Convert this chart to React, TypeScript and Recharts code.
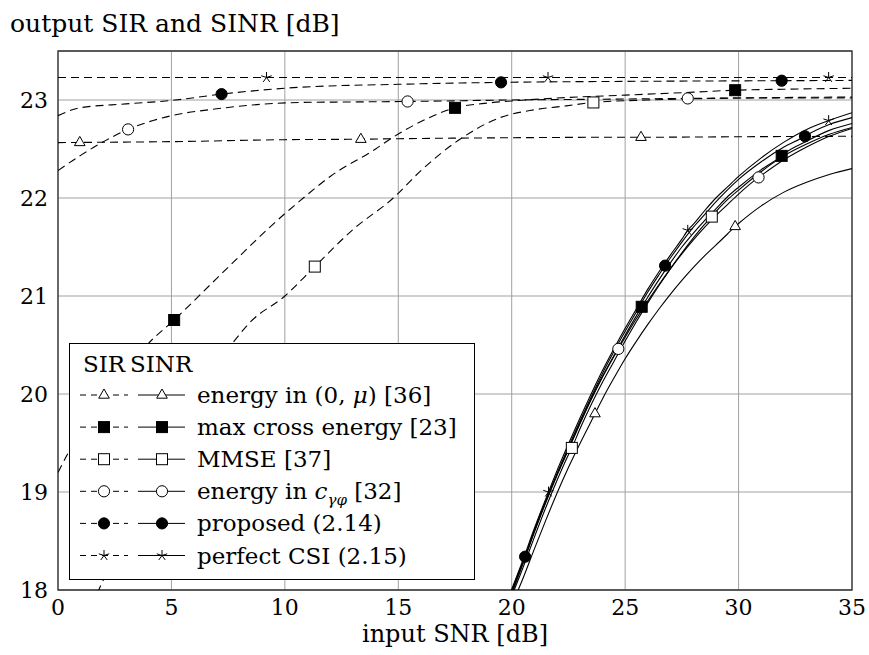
import React from "react";
import { ComposedChart, Line, XAxis, YAxis, CartesianGrid, ReferenceArea } from "recharts";

const FONT = "DejaVu Serif";

const xTicks = [0, 5, 10, 15, 20, 25, 30, 35];
const yTicks = [18, 19, 20, 21, 22, 23];

// SIR curves (dashed)
const sirTriX = [0, 0.96, 5, 10, 13.35, 15, 20, 25, 25.7, 30, 35];
const sirTriY = [22.565, 22.567, 22.575, 22.595, 22.6, 22.605, 22.615, 22.62, 22.62, 22.625, 22.63];
const sirTriMarks = [0.96, 13.35, 25.7];

const sirSqfX = [0, 0.43, 2, 3.96, 5.12, 7, 10, 10.66, 12, 14, 14.77, 16, 17.5, 19, 20, 22, 25, 28, 29.85, 32, 35];
const sirSqfY = [19.2, 19.39, 19.9, 20.51, 20.755, 21.18, 21.84, 21.97, 22.22, 22.5, 22.62, 22.78, 22.92, 22.97, 22.99, 23.02, 23.05, 23.08, 23.1, 23.11, 23.12];
const sirSqfMarks = [5.12, 17.5, 29.85];

const sirSqoX = [1.5, 3, 5, 7.8, 8.46, 10, 11.32, 13.01, 14.78, 16, 17.72, 19.48, 21, 22.4, 23.6, 26, 30, 35];
const sirSqoY = [17.85, 18.6, 19.5, 20.55, 20.73, 21.0, 21.3, 21.68, 22.0, 22.28, 22.6, 22.82, 22.9, 22.94, 22.975, 23.0, 23.02, 23.03];
const sirSqoMarks = [11.32, 23.6];

const sirCioX = [0, 1.03, 3.09, 5, 7, 10.66, 13, 15.41, 20, 25, 27.76, 30, 35];
const sirCioY = [22.28, 22.44, 22.7, 22.84, 22.91, 22.975, 22.98, 22.985, 23.0, 23.01, 23.016, 23.02, 23.02];
const sirCioMarks = [3.09, 15.41, 27.76];

const sirCifX = [0, 0.96, 3, 5, 7.21, 10, 10.66, 15, 19.53, 25, 31.9, 35];
const sirCifY = [22.84, 22.92, 22.96, 22.995, 23.06, 23.12, 23.13, 23.16, 23.18, 23.19, 23.197, 23.2];
const sirCifMarks = [7.21, 19.53, 31.9];

const sirStarX = [0, 9.19, 21.6, 33.97, 35];
const sirStarY = [23.23, 23.23, 23.23, 23.23, 23.23];
const sirStarMarks = [9.19, 21.6, 33.97];

// SINR curves (solid)
const sinrTriX = [20.1, 20.5, 21, 21.5, 22, 22.5, 23, 23.5, 23.67, 24, 24.5, 25, 25.5, 26, 26.5, 27, 27.5, 28, 28.5, 29, 29.5, 29.85, 30, 31, 32, 33, 34, 35];
const sinrTriY = [17.9, 18.12, 18.42, 18.71, 18.99, 19.25, 19.49, 19.72, 19.8, 19.95, 20.16, 20.36, 20.54, 20.71, 20.87, 21.02, 21.16, 21.29, 21.41, 21.52, 21.63, 21.71, 21.74, 21.92, 22.06, 22.16, 22.24, 22.3];
const sinrTriMarks = [23.67, 29.85];

const sinrSqfX = [19.9, 20.5, 21, 21.5, 22, 22.5, 23, 23.5, 24, 24.5, 25, 25.5, 25.73, 26, 26.5, 27, 27.5, 28, 28.5, 29, 29.5, 30, 31, 31.9, 32, 33, 34, 35];
const sinrSqfY = [17.91, 18.28, 18.6, 18.9, 19.18, 19.44, 19.7, 19.95, 20.18, 20.39, 20.6, 20.8, 20.89, 20.99, 21.17, 21.34, 21.5, 21.64, 21.77, 21.89, 22.01, 22.11, 22.29, 22.43, 22.45, 22.58, 22.69, 22.76];
const sinrSqfMarks = [25.73, 31.9];

const sinrSqoX = [19.9, 20.5, 21, 21.5, 22, 22.5, 22.65, 23, 23.5, 24, 24.5, 25, 25.5, 26, 26.5, 27, 27.5, 28, 28.5, 28.82, 29, 29.5, 30, 31, 32, 33, 34, 35];
const sinrSqoY = [17.88, 18.23, 18.54, 18.84, 19.12, 19.38, 19.45, 19.64, 19.89, 20.12, 20.33, 20.54, 20.74, 20.93, 21.11, 21.28, 21.44, 21.59, 21.73, 21.81, 21.86, 21.98, 22.08, 22.27, 22.43, 22.55, 22.65, 22.72];
const sinrSqoMarks = [22.65, 28.82];

const sinrCioX = [19.9, 20.5, 21, 21.5, 22, 22.5, 23, 23.5, 24, 24.5, 24.7, 25, 25.5, 26, 26.5, 27, 27.5, 28, 28.5, 29, 29.5, 30, 30.88, 31, 32, 33, 34, 35];
const sinrCioY = [17.9, 18.27, 18.59, 18.89, 19.17, 19.43, 19.69, 19.94, 20.17, 20.38, 20.46, 20.58, 20.77, 20.95, 21.12, 21.28, 21.43, 21.57, 21.7, 21.82, 21.93, 22.04, 22.21, 22.23, 22.39, 22.52, 22.63, 22.71];
const sinrCioMarks = [24.7, 30.88];

const sinrCifX = [19.9, 20.5, 20.59, 21, 21.5, 22, 22.5, 23, 23.5, 24, 24.5, 25, 25.5, 26, 26.5, 26.76, 27, 27.5, 28, 28.5, 29, 29.5, 30, 31, 32, 32.93, 33, 34, 35];
const sinrCifY = [17.92, 18.29, 18.34, 18.61, 18.91, 19.19, 19.46, 19.72, 19.97, 20.21, 20.43, 20.64, 20.84, 21.04, 21.22, 21.31, 21.39, 21.55, 21.7, 21.83, 21.96, 22.08, 22.19, 22.37, 22.52, 22.63, 22.64, 22.75, 22.82];
const sinrCifMarks = [20.59, 26.76, 32.93];

const sinrStarX = [19.9, 20.5, 21, 21.5, 21.62, 22, 22.5, 23, 23.5, 24, 24.5, 25, 25.5, 26, 26.5, 27, 27.5, 27.76, 28, 28.5, 29, 29.5, 30, 31, 32, 33, 33.97, 35];
const sinrStarY = [17.95, 18.31, 18.63, 18.93, 19.0, 19.22, 19.49, 19.75, 20.0, 20.24, 20.46, 20.67, 20.87, 21.07, 21.25, 21.42, 21.58, 21.67, 21.73, 21.87, 22.0, 22.11, 22.22, 22.41, 22.57, 22.7, 22.79, 22.87];
const sinrStarMarks = [21.62, 27.76, 33.97];

type Kind = "tri" | "sqf" | "sqo" | "cio" | "cif" | "star";

const legendKinds: Kind[] = ["tri", "sqf", "sqo", "cio", "cif", "star"];

const toPts = (xs: number[], ys: number[]) => xs.map((x, i) => ({ x, y: ys[i] }));

const series = [
  { id: "sirTri", kind: "tri" as Kind, dashed: true, data: toPts(sirTriX, sirTriY), marks: sirTriMarks },
  { id: "sirSqf", kind: "sqf" as Kind, dashed: true, data: toPts(sirSqfX, sirSqfY), marks: sirSqfMarks },
  { id: "sirSqo", kind: "sqo" as Kind, dashed: true, data: toPts(sirSqoX, sirSqoY), marks: sirSqoMarks },
  { id: "sirCio", kind: "cio" as Kind, dashed: true, data: toPts(sirCioX, sirCioY), marks: sirCioMarks },
  { id: "sirCif", kind: "cif" as Kind, dashed: true, data: toPts(sirCifX, sirCifY), marks: sirCifMarks },
  { id: "sirStar", kind: "star" as Kind, dashed: true, data: toPts(sirStarX, sirStarY), marks: sirStarMarks },
  { id: "sinrTri", kind: "tri" as Kind, dashed: false, data: toPts(sinrTriX, sinrTriY), marks: sinrTriMarks },
  { id: "sinrSqf", kind: "sqf" as Kind, dashed: false, data: toPts(sinrSqfX, sinrSqfY), marks: sinrSqfMarks },
  { id: "sinrSqo", kind: "sqo" as Kind, dashed: false, data: toPts(sinrSqoX, sinrSqoY), marks: sinrSqoMarks },
  { id: "sinrCio", kind: "cio" as Kind, dashed: false, data: toPts(sinrCioX, sinrCioY), marks: sinrCioMarks },
  { id: "sinrCif", kind: "cif" as Kind, dashed: false, data: toPts(sinrCifX, sinrCifY), marks: sinrCifMarks },
  { id: "sinrStar", kind: "star" as Kind, dashed: false, data: toPts(sinrStarX, sinrStarY), marks: sinrStarMarks },
];

function Marker({ kind, x, y }: { kind: Kind; x: number; y: number }) {
  if (kind === "tri") {
    return <polygon points={`${x},${y - 6} ${x - 5.3},${y + 3.2} ${x + 5.3},${y + 3.2}`} fill="#fff" stroke="#000" strokeWidth={1} />;
  }
  if (kind === "sqf" || kind === "sqo") {
    return <rect x={x - 5.5} y={y - 5.5} width={11} height={11} fill={kind === "sqf" ? "#000" : "#fff"} stroke="#000" strokeWidth={1} />;
  }
  if (kind === "cio" || kind === "cif") {
    return <circle cx={x} cy={y} r={5.6} fill={kind === "cif" ? "#000" : "#fff"} stroke="#000" strokeWidth={1} />;
  }
  const r = 5.5;
  let d = "";
  for (let k = 0; k < 5; k++) {
    const a = (-90 + k * 72) * (Math.PI / 180);
    d += `M${x},${y}L${x + r * Math.cos(a)},${y + r * Math.sin(a)}`;
  }
  return <path d={d} stroke="#000" strokeWidth={1} fill="none" />;
}

const makeDot = (kind: Kind, marks: number[]) => (p: any) => {
  if (p.payload && marks.includes(p.payload.x)) {
    return <Marker key={p.index} kind={kind} x={p.cx} y={p.cy} />;
  }
  return <g key={p.index} />;
};

const legendLabels: React.ReactNode[] = [
  <>energy in (0, <tspan fontStyle="italic">μ</tspan>) [36]</>,
  <>max cross energy [23]</>,
  <>MMSE [37]</>,
  <>energy in <tspan fontStyle="italic">c</tspan><tspan fontStyle="italic" fontSize={15} dy={6}>γφ</tspan><tspan dy={-6}> [32]</tspan></>,
  <>proposed (2.14)</>,
  <>perfect CSI (2.15)</>,
];

function LegendBox() {
  return (
    <div style={{ position: "absolute", left: 69, top: 343, width: 406, height: 237, boxSizing: "border-box", border: "1px solid #000", background: "#fff" }}>
      <svg width={404} height={235} style={{ position: "absolute", left: 0, top: 0 }} fontFamily={FONT}>
        <text x={13} y={28} fontSize={23}>SIR</text>
        <text x={60} y={28} fontSize={23}>SINR</text>
        {legendKinds.map((k, i) => {
          const cy = 51 + i * 32.1;
          return (
            <g key={k}>
              <line x1={10} x2={58} y1={cy} y2={cy} stroke="#000" strokeWidth={1} strokeDasharray="6 5" />
              <Marker kind={k} x={34} y={cy} />
              <line x1={68} x2={115} y1={cy} y2={cy} stroke="#000" strokeWidth={1} />
              <Marker kind={k} x={92} y={cy} />
              <text x={127} y={cy + 8} fontSize={23}>{legendLabels[i]}</text>
            </g>
          );
        })}
      </svg>
    </div>
  );
}

export default function App() {
  return (
    <div style={{ position: "absolute", left: 0, top: 0, width: 869, height: 655, background: "#fff", fontFamily: FONT }}>
      <div style={{ position: "absolute", left: 10, top: 11, fontSize: 25, lineHeight: "26px", whiteSpace: "nowrap" }}>
        output SIR and SINR [dB]
      </div>
      <ComposedChart width={869} height={655} margin={{ top: 51, right: 17, bottom: 0, left: 0 }}>
        <CartesianGrid stroke="#a0a0a0" strokeWidth={1} />
        <XAxis
          dataKey="x"
          type="number"
          domain={[0, 35]}
          ticks={xTicks}
          height={65}
          axisLine={false}
          tickLine={false}
          tickSize={0}
          tickMargin={9}
          tick={{ fontSize: 22, fill: "#000", fontFamily: FONT }}
          allowDataOverflow
        />
        <YAxis
          type="number"
          domain={[18, 23.5]}
          ticks={yTicks}
          width={58}
          axisLine={false}
          tickLine={false}
          tickSize={0}
          tickMargin={10}
          tick={{ fontSize: 22, fill: "#000", fontFamily: FONT }}
          allowDataOverflow
        />
        {series.map((s) => (
          <Line
            key={s.id}
            data={s.data}
            dataKey="y"
            type="monotone"
            stroke="#000"
            strokeWidth={1.1}
            strokeDasharray={s.dashed ? "8 5" : undefined}
            dot={makeDot(s.kind, s.marks)}
            activeDot={false}
            isAnimationActive={false}
          />
        ))}
        <ReferenceArea x1={0} x2={35} y1={18} y2={23.5} fill="none" stroke="#333" strokeWidth={1.3} ifOverflow="visible" />
      </ComposedChart>
      <LegendBox />
      <div style={{ position: "absolute", left: 0, width: 910, textAlign: "center", top: 622, fontSize: 24, lineHeight: "25px" }}>
        input SNR [dB]
      </div>
    </div>
  );
}
